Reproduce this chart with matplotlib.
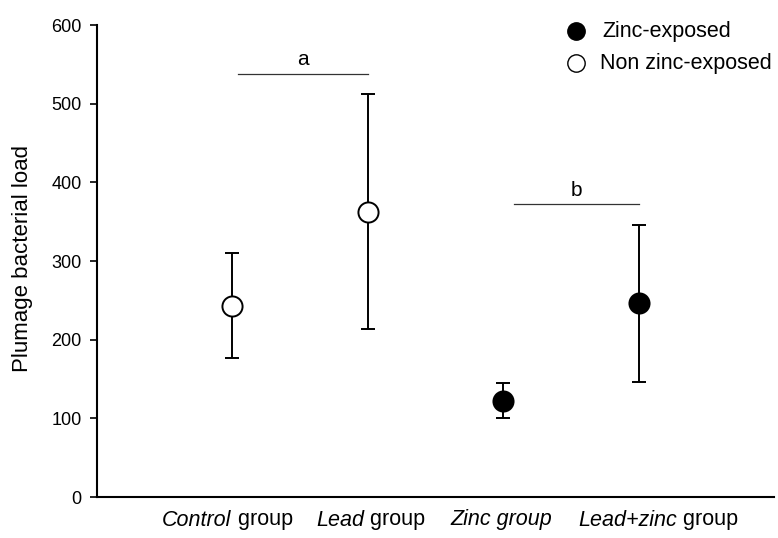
import matplotlib
matplotlib.use('Agg')
import matplotlib.pyplot as plt
import numpy as np

plt.rcParams['font.family'] = ['Liberation Sans', 'DejaVu Sans']

# data
groups = ['Control', 'Lead', 'Zinc', 'Lead+zinc']
xpos = [1, 2, 3, 4]
means = [243, 362, 122, 246]
upper = [310, 512, 145, 346]
lower = [177, 214, 100, 146]
zinc_exposed = [False, False, True, True]

# x tick labels: (italic part, plain part)
label_parts = [('Control', ' group'), ('Lead', ' group'), ('Zinc group', ''), ('Lead+zinc', ' group')]
label_centers = [0.963, 2.022, 2.985, 4.148]

# significance brackets
brackets = [(1.044, 2.0, 538, 'a'), (3.08, 4.0, 372, 'b')]

fig = plt.figure(figsize=(7.78, 5.38), dpi=100)
ax = fig.add_axes([97/778, 1-497/538, (774-97)/778, (497-25)/538])

for x, m, up, lo, z in zip(xpos, means, upper, lower, zinc_exposed):
    ax.errorbar([x], [m], yerr=[[m-lo], [up-m]], fmt='none', ecolor='black',
                elinewidth=1.4, capsize=5, capthick=1.4, zorder=2)
    ax.plot([x], [m], 'o', ms=14.5, mfc='black' if z else 'white',
            mec='black', mew=1.4, zorder=3)

for x0, x1, y, lab in brackets:
    ax.plot([x0, x1], [y, y], color='#333333', lw=0.9)
    ax.text((x0+x1)/2, y+6, lab, ha='center', va='bottom', fontsize=15)

ax.set_xlim(0, 5)
ax.set_ylim(0, 600)
ax.set_yticks(np.arange(0, 601, 100))
ax.set_xticks([])
ax.spines['top'].set_visible(False)
ax.spines['right'].set_visible(False)
ax.spines['left'].set_linewidth(1.5)
ax.spines['bottom'].set_linewidth(1.5)
ax.tick_params(axis='y', direction='out', length=5, width=1.2, pad=6, labelsize=13)

fig.text(22.5/778, 1-259/538, 'Plumage bacterial load', rotation=90,
         ha='center', va='center', fontsize=16)

# x labels with mixed italic / regular parts
fig.canvas.draw()
r = fig.canvas.get_renderer()
ypix = 538 - 520
for (ital, plain), xc in zip(label_parts, label_centers):
    t1 = fig.text(0, ypix/538, ital, style='italic', fontsize=15.5, va='center', ha='left')
    t2 = fig.text(0, ypix/538, plain, fontsize=15.5, va='center', ha='left')
    w1 = t1.get_window_extent(r).width
    w2 = t2.get_window_extent(r).width if plain else 0
    cx = ax.transData.transform((xc, 0))[0]
    left = cx - (w1 + w2)/2
    t1.set_x(left/778)
    t2.set_x((left + w1)/778)

# legend drawn by hand
fig.lines.append(plt.Line2D([575.7/778], [1-31/538], marker='o', ms=12.5, mfc='black',
                            mec='black', ls='none', transform=fig.transFigure))
fig.lines.append(plt.Line2D([575.7/778], [1-63/538], marker='o', ms=12.5, mfc='white',
                            mec='black', mew=1.0, ls='none', transform=fig.transFigure))
fig.text(602/778, 1-31/538, 'Zinc-exposed', fontsize=15.5, va='center', ha='left')
fig.text(600/778, 1-64/538, 'Non zinc-exposed', fontsize=15.5, va='center', ha='left')

fig.savefig('out.png', dpi=100)
